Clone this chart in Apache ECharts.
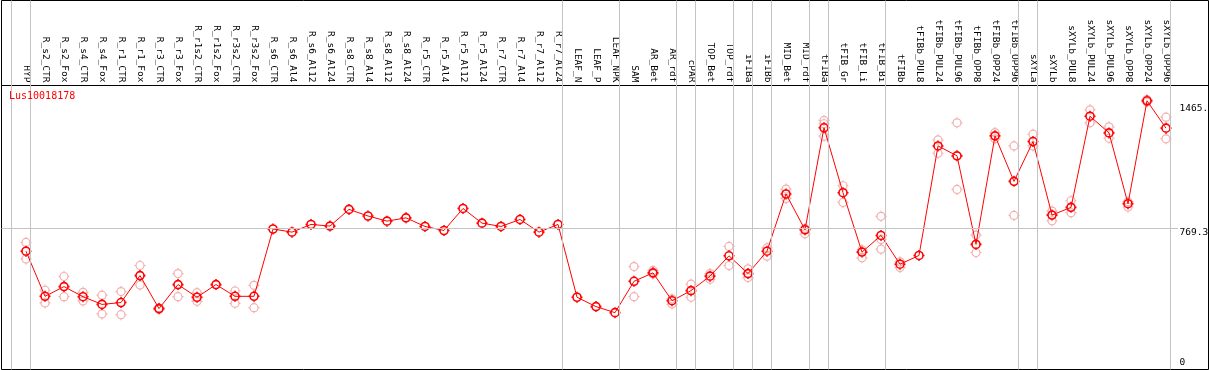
<!DOCTYPE html>
<html>
<head>
<meta charset="utf-8">
<title>Lus10018178</title>
<script src="https://cdn.jsdelivr.net/npm/echarts@6/dist/echarts.min.js"></script>
<style>
html, body { margin: 0; padding: 0; background: #fff; }
#chart { width: 1209px; height: 370px; }
</style>
</head>
<body>
<div id="chart"></div>
<script>
const categories = [
  'HYP', 'R_s2_CTR', 'R_s2_Fox', 'R_s4_CTR', 'R_s4_Fox', 'R_r1_CTR', 'R_r1_Fox', 'R_r3_CTR', 'R_r3_Fox',
  'R_r1s2_CTR', 'R_r1s2_Fox', 'R_r3s2_CTR', 'R_r3s2_Fox', 'R_s6_CTR', 'R_s6_Al4', 'R_s6_Al12', 'R_s6_Al24',
  'R_s8_CTR', 'R_s8_Al4', 'R_s8_Al12', 'R_s8_Al24', 'R_r5_CTR', 'R_r5_Al4', 'R_r5_Al12', 'R_r5_Al24',
  'R_r7_CTR', 'R_r7_Al4', 'R_r7_Al12', 'R_r7_Al24', 'LEAF_N', 'LEAF_P', 'LEAF_NPK', 'SAM', 'AR_Bet', 'AR_rdf',
  'cPAR', 'TOP_Bet', 'TOP_rdf', 'iFIBa', 'iFIBb', 'MID_Bet', 'MID_rdf', 'tFIBa', 'tFIB_Gr', 'tFIB_Li', 'tFIB_Bi',
  'tFIBb', 'tFIBb_PUL8', 'tFIBb_PUL24', 'tFIBb_PUL96', 'tFIBb_OPP8', 'tFIBb_OPP24', 'tFIBb_OPP96',
  'sXYLa', 'sXYLb', 'sXYLb_PUL8', 'sXYLb_PUL24', 'sXYLb_PUL96', 'sXYLb_OPP8', 'sXYLb_OPP24', 'sXYLb_OPP96'
];

// mean expression per sample (line)
const means = [
  645, 399, 452, 397, 355, 365, 512, 332, 463,
  394, 463, 399, 399, 766, 749, 791, 782,
  873, 837, 809, 827, 780, 758, 878, 798,
  780, 818, 749, 791, 394, 343, 310, 481, 527, 375,
  430, 509, 620, 523, 645, 957, 762, 1318, 964, 640, 731,
  574, 622, 1219, 1165, 682, 1274, 1026,
  1243, 842, 884, 1381, 1290, 904, 1465, 1316
];

// single replicates per sample (pale circles)
const replicates = [
  [693, 603], [432, 363], [507, 397], [421, 374], [405, 303], [425, 299], [567, 461], [336, 327], [523, 397],
  [419, 372], [], [428, 361], [459, 337], [], [], [], [],
  [], [], [], [], [], [], [], [],
  [], [], [], [], [], [], [], [561, 397], [540, 521], [385, 357],
  [465, 394], [523, 492], [671, 567], [549, 501], [663, 618], [984, 933], [769, 740], [1358, 1340, 1272], [1002, 911], [653, 609], [835, 709, 656],
  [587, 556], [], [1252, 1179], [1345, 982], [733, 638], [1292, 1258], [1219, 840],
  [1283, 1219], [864, 811], [920, 855], [1416, 1345], [1323, 1261], [915, 886], [1472, 1458], [1376, 1258]
];

// samples per tissue group, separated by the vertical lines
const groupSizes = [1, 28, 3, 3, 1, 2, 1, 1, 2, 1, 3, 7, 1, 7];

const yTickValues = [769.3, 1465];
const yTickTexts = ['769.3', '1465.'];
const gridValue = 769.3;

// axis ranges (pixel = 26 + 19 * index)
const xMin = -24.5 / 19;
const xMax = 1182.5 / 19;
const yMax = 2012;

const boundaries = [-1];
let acc = -1;
groupSizes.forEach(n => { acc += n; boundaries.push(acc); });

const marker = 'path://M-4 0A4 4 0 1 1 4 0A4 4 0 1 1 -4 0ZM0 -5.5L0 -4M0 4L0 5.5M-5.5 0L-4 0M4 0L5.5 0';
const FONT = 'DejaVu Sans Mono';

const repData = [];
replicates.forEach((r, i) => r.forEach(v => repData.push([i, v])));

const chart = echarts.init(document.getElementById('chart'), null, { renderer: 'canvas' });
chart.setOption({
  animation: false,
  title: {
    text: 'Lus10018178', left: 9, top: 91, padding: 0,
    textStyle: { color: '#ff0000', fontSize: 10, fontWeight: 'normal', fontFamily: FONT }
  },
  grid: {
    left: 1.5, right: 0.5, top: 0.5, bottom: 0.5,
    show: true, borderColor: '#000', borderWidth: 1,
    outerBoundsMode: 'none'
  },
  xAxis: {
    type: 'value', position: 'top', offset: -85,
    min: xMin, max: xMax,
    axisLine: { show: true, onZero: false, lineStyle: { color: '#000', width: 1 } },
    axisTick: { show: false },
    splitLine: { show: false },
    axisLabel: {
      customValues: categories.map((_, i) => i),
      formatter: v => categories[v] ?? '',
      rotate: 90, margin: 3,
      fontFamily: FONT, fontSize: 9.5, color: '#000'
    }
  },
  yAxis: [
    {
      type: 'value', position: 'right', min: 0, max: yMax,
      axisLine: { show: false, onZero: false },
      axisTick: { show: false },
      splitLine: { show: false },
      axisLabel: {
        inside: true, margin: 29, align: 'left', verticalAlign: 'top',
        customValues: yTickValues,
        formatter: v => {
          const t = yTickTexts[yTickValues.indexOf(v)];
          return v === 1465 ? '{b|' + t + '}' : '{a|' + t + '}';
        },
        rich: {
          a: { fontFamily: FONT, fontSize: 9.5, color: '#000', lineHeight: 9 },
          b: { fontFamily: FONT, fontSize: 9.5, color: '#000', lineHeight: 15 }
        },
        fontFamily: FONT, fontSize: 9.5, color: '#000'
      }
    },
    {
      type: 'value', position: 'right', min: 0, max: yMax,
      axisLine: { show: false, onZero: false },
      axisTick: { show: false },
      splitLine: { show: false },
      axisLabel: {
        inside: true, margin: 29, align: 'left', verticalAlign: 'bottom',
        customValues: [0], formatter: () => '0',
        lineHeight: 14, fontFamily: FONT, fontSize: 9.5, color: '#000'
      }
    }
  ],
  series: [
    {
      type: 'scatter',
      data: repData,
      symbol: marker, symbolSize: 11,
      itemStyle: { color: 'rgba(0,0,0,0)', borderColor: '#f09a9a', borderWidth: 1.2 },
      silent: true,
      z: 3,
      markLine: {
        silent: true,
        symbol: ['none', 'none'],
        label: { show: false },
        lineStyle: { color: '#c4c4c4', type: 'solid', width: 1 },
        emphasis: { disabled: true },
        data: [
          ...boundaries.map(b => ({ xAxis: b + 0.24 })),
          [{ coord: [xMin, gridValue] }, { coord: [1152 / 19, gridValue] }]
        ]
      }
    },
    {
      type: 'line',
      data: means.map((v, i) => [i, v]),
      symbol: marker, symbolSize: 11,
      showAllSymbol: true,
      lineStyle: { color: '#ff0000', width: 1 },
      itemStyle: { color: 'rgba(0,0,0,0)', borderColor: '#ff0000', borderWidth: 1.6 },
      silent: true,
      z: 4
    }
  ]
});
</script>
</body>
</html>
